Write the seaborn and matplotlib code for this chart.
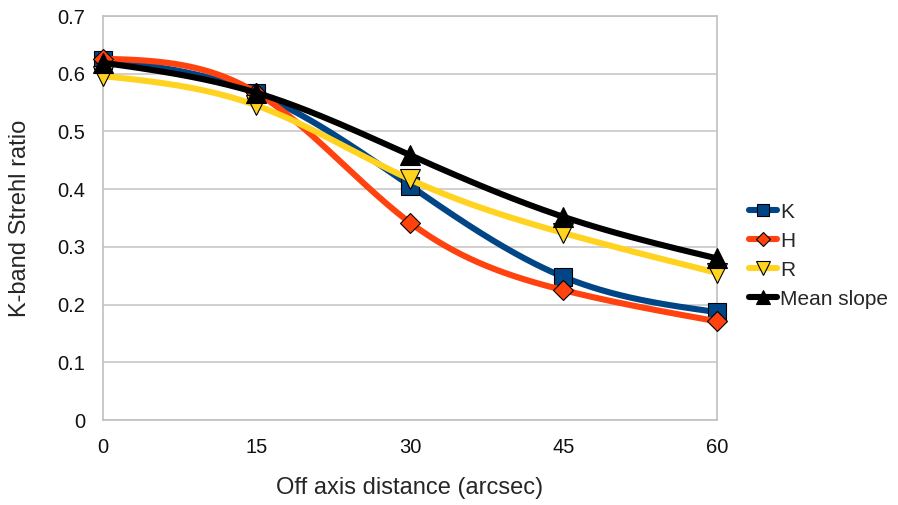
import numpy as np
import pandas as pd
import matplotlib.pyplot as plt
from matplotlib.lines import Line2D
import seaborn as sns

# Data
distance = [0, 15, 30, 45, 60]
k_vals = [0.624, 0.566, 0.406, 0.248, 0.187]
h_vals = [0.626, 0.567, 0.342, 0.225, 0.171]
r_vals = [0.596, 0.545, 0.417, 0.324, 0.255]
mean_vals = [0.619, 0.567, 0.459, 0.352, 0.280]

series = {
    "K": (k_vals, "#004586", "s", 13),
    "H": (h_vals, "#ff420e", "D", 10),
    "R": (r_vals, "#ffd320", "v", 14),
    "Mean slope": (mean_vals, "#000000", "^", 14),
}


def natural_spline(x, y, n=300):
    # natural cubic spline through the points, used only to draw the smooth line
    x = np.asarray(x, float)
    y = np.asarray(y, float)
    m = len(x)
    h = np.diff(x)
    A = np.zeros((m, m))
    b = np.zeros(m)
    A[0, 0] = A[-1, -1] = 1
    for i in range(1, m - 1):
        A[i, i - 1] = h[i - 1]
        A[i, i] = 2 * (h[i - 1] + h[i])
        A[i, i + 1] = h[i]
        b[i] = 6 * ((y[i + 1] - y[i]) / h[i] - (y[i] - y[i - 1]) / h[i - 1])
    M = np.linalg.solve(A, b)
    xs = np.linspace(x[0], x[-1], n)
    idx = np.clip(np.searchsorted(x, xs) - 1, 0, m - 2)
    x0, x1 = x[idx], x[idx + 1]
    hh = x1 - x0
    t0 = x1 - xs
    t1 = xs - x0
    ys = (M[idx] * t0**3 + M[idx + 1] * t1**3) / (6 * hh) \
        + (y[idx] / hh - M[idx] * hh / 6) * t0 \
        + (y[idx + 1] / hh - M[idx + 1] * hh / 6) * t1
    return xs, ys


sns.set_style("white")
plt.rcParams['font.family'] = ['Liberation Sans', 'DejaVu Sans']

fig = plt.figure(figsize=(8.98, 5.05), dpi=100)
ax = fig.add_axes([0.1147, 0.1683, 0.6837, 0.8000])

handles = []
for i, (name, (vals, color, marker, ms)) in enumerate(series.items()):
    xs, ys = natural_spline(distance, vals)
    curve = pd.DataFrame({"x": xs, "y": ys})
    sns.lineplot(data=curve, x="x", y="y", color=color, linewidth=4.4,
                 ax=ax, zorder=3 + i * 2, estimator=None, sort=False)
    ax.plot(distance, vals, linestyle="none", marker=marker, markersize=ms,
            markerfacecolor=color, markeredgecolor="black", markeredgewidth=0.8,
            zorder=4 + i * 2, clip_on=False)
    handles.append(Line2D([0], [0], color=color, linewidth=4.4, marker=marker,
                          markersize=ms * 0.68, markerfacecolor=color,
                          markeredgecolor="black", markeredgewidth=0.8,
                          label=name))

ax.set_xlim(0, 60)
ax.set_ylim(0, 0.7)
ax.set_xticks(distance)
ax.set_yticks(np.arange(0, 0.71, 0.1))
ax.set_yticklabels(["0"] + [f"{v:.1f}" for v in np.arange(0.1, 0.71, 0.1)])
ax.yaxis.grid(True, color="#c8c8c8", linewidth=1.2)
ax.xaxis.grid(False)
for side in ["left", "right", "top", "bottom"]:
    ax.spines[side].set_color("#c0c0c0")
    ax.spines[side].set_linewidth(1.2)
ax.tick_params(axis="both", which="both", direction="out", length=8,
               color="#c0c0c0", width=1.2, labelsize=14.5, labelcolor="#111111",
               pad=5)

ax.set_xlabel("Off axis distance (arcsec)", fontsize=17, va="center")
ax.xaxis.set_label_coords(0.5, -0.168)
ax.set_ylabel("K-band Strehl ratio", fontsize=17, va="center")
ax.yaxis.set_label_coords(-0.135, 0.5)

fig.legend(handles=handles, loc="center left", bbox_to_anchor=(0.818, 0.494),
           frameon=False, fontsize=15, handlelength=1.35, handletextpad=0.15,
           labelspacing=0.48, borderpad=0.2)

plt.savefig("out.png", dpi=100)
plt.close()
